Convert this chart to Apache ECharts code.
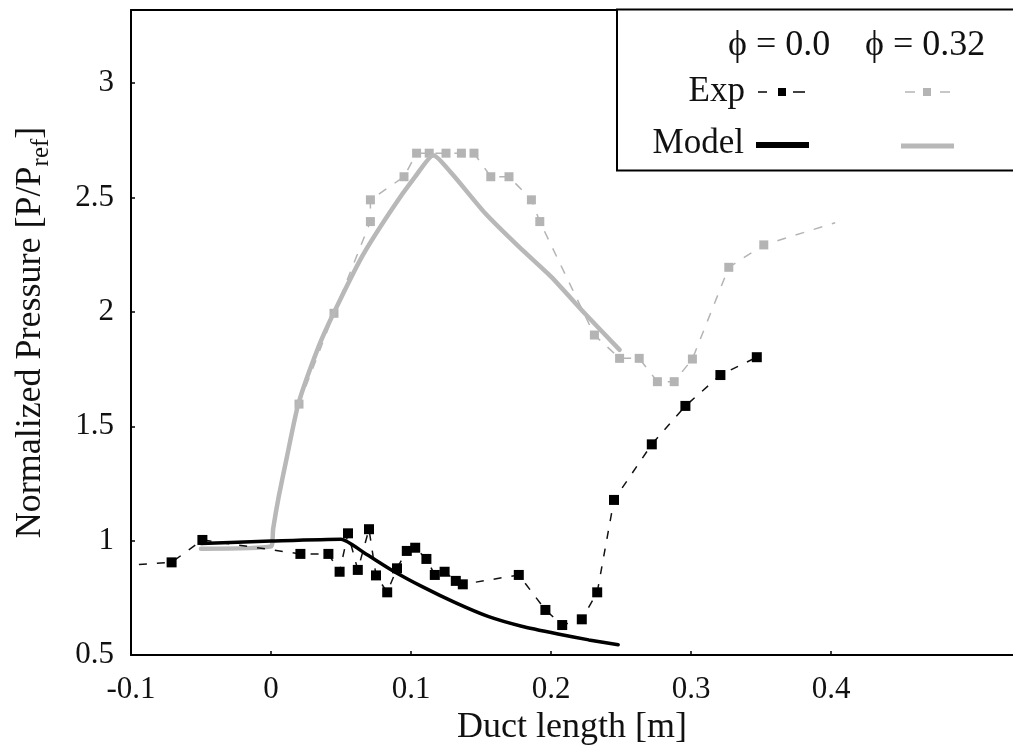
<!DOCTYPE html>
<html>
<head>
<meta charset="utf-8">
<script src="https://cdn.jsdelivr.net/npm/echarts@6/dist/echarts.min.js"></script>
<style>
html,body{margin:0;padding:0;background:#fff;}
#chart{width:1013px;height:755px;}
</style>
</head>
<body>
<div id="chart"></div>
<script>
// ---- data ----
const xTicks = [-0.1, 0, 0.1, 0.2, 0.3, 0.4];
const yTicks = [0.5, 1, 1.5, 2, 2.5, 3];

// Experiment, phi = 0.0 (black squares, dashed)
const expPhi0 = [
  [-0.12, 0.885], [-0.071, 0.905], [-0.049, 1.003], [0.021, 0.942], [0.041, 0.942],
  [0.049, 0.864], [0.055, 1.032], [0.062, 0.872], [0.070, 1.050], [0.075, 0.848],
  [0.083, 0.774], [0.090, 0.879], [0.097, 0.955], [0.103, 0.969], [0.111, 0.920],
  [0.117, 0.850], [0.124, 0.864], [0.132, 0.824], [0.137, 0.809], [0.177, 0.850],
  [0.196, 0.697], [0.208, 0.631], [0.222, 0.656], [0.233, 0.774], [0.245, 1.178],
  [0.272, 1.421], [0.296, 1.589], [0.321, 1.724], [0.347, 1.802]
];
// Experiment, phi = 0.32 (gray squares, dashed)
const expPhi032 = [
  [0.020, 1.597], [0.045, 1.994], [0.071, 2.395], [0.071, 2.490], [0.095, 2.591],
  [0.104, 2.694], [0.113, 2.694], [0.125, 2.694], [0.136, 2.694], [0.145, 2.694],
  [0.157, 2.591], [0.170, 2.591], [0.186, 2.490], [0.192, 2.395], [0.231, 1.899],
  [0.249, 1.797], [0.263, 1.797], [0.276, 1.695], [0.288, 1.695], [0.301, 1.794],
  [0.327, 2.195], [0.352, 2.293], [0.403, 2.390]
];
// Model, phi = 0.0 (black solid)
const modelPhi0 = [
  [-0.05, 0.988], [0.0, 0.998], [0.05, 1.006], [0.067, 0.945], [0.086, 0.872],
  [0.108, 0.799], [0.132, 0.728], [0.155, 0.669], [0.179, 0.626], [0.205, 0.592],
  [0.227, 0.566], [0.248, 0.545]
];
// Model, phi = 0.32 (gray solid)
const modelPhi032 = [
  [-0.05, 0.965], [0.0, 0.975], [0.0015, 1.05], [0.0055, 1.192], [0.0114, 1.367],
  [0.0195, 1.597], [0.034, 1.848], [0.0447, 1.994], [0.065, 2.242], [0.086, 2.446],
  [0.103, 2.591], [0.116, 2.685], [0.129, 2.606], [0.153, 2.431], [0.177, 2.285],
  [0.200, 2.154], [0.224, 1.994], [0.249, 1.834]
];
const seriesNames = ['Exp (ϕ = 0.0)', 'Model (ϕ = 0.0)', 'Exp (ϕ = 0.32)', 'Model (ϕ = 0.32)'];

const FONT = '"Liberation Serif", "DejaVu Serif", serif';
const TXT = '#111';
const GRAY = '#b4b4b4';

const chart = echarts.init(document.getElementById('chart'), null, {renderer: 'canvas'});

// last gray point has no marker
const expPhi032Data = expPhi032.map((p, i) =>
  i === expPhi032.length - 1 ? {value: p, symbol: 'none'} : {value: p});

chart.setOption({
  animation: false,
  backgroundColor: '#fff',
  grid: {left: 129, right: 0, top: 10, bottom: 100},
  xAxis: [{
    type: 'value', min: -0.1, max: 0.53, interval: 0.1,
    name: 'Duct length [m]', nameLocation: 'middle', nameGap: 53,
    nameTextStyle: {fontFamily: FONT, fontSize: 36, color: TXT},
    axisLine: {show: true, onZero: false, lineStyle: {color: '#000', width: 2}},
    axisTick: {show: true, inside: true, length: 4, lineStyle: {color: '#000', width: 1.5}, customValues: xTicks},
    axisLabel: {fontFamily: FONT, fontSize: 31, color: TXT, margin: 19, customValues: xTicks},
    splitLine: {show: false}
  }, {
    type: 'value', position: 'top', min: -0.1, max: 0.53,
    axisLine: {show: true, onZero: false, lineStyle: {color: '#000', width: 2}},
    axisTick: {show: false}, axisLabel: {show: false}, splitLine: {show: false}
  }],
  yAxis: {
    type: 'value', min: 0.5, max: 3.32, interval: 0.5,
    name: 'Normalized Pressure [P/P{sub|ref}]', nameLocation: 'middle', nameGap: 77,
    nameTextStyle: {fontFamily: FONT, fontSize: 36, color: TXT, lineHeight: 46,
      rich: {sub: {fontFamily: FONT, fontSize: 25, color: TXT, verticalAlign: 'bottom', lineHeight: 25}}},
    axisLine: {show: true, onZero: false, lineStyle: {color: '#000', width: 2}},
    axisTick: {show: true, inside: true, length: 4, lineStyle: {color: '#000', width: 1.5}, customValues: yTicks},
    axisLabel: {fontFamily: FONT, fontSize: 31, color: TXT, margin: 17, customValues: yTicks},
    splitLine: {show: false}
  },
  series: [
    {
      name: seriesNames[2], type: 'line', data: expPhi032Data, clip: true,
      symbol: 'rect', symbolSize: 9, showAllSymbol: true,
      itemStyle: {color: GRAY},
      lineStyle: {color: GRAY, width: 1.5, type: [9, 10]}, z: 2
    },
    {
      name: seriesNames[3], type: 'line', data: modelPhi032, clip: true,
      showSymbol: false, symbol: 'none', smooth: 0.2,
      lineStyle: {color: '#b8b8b8', width: 4.5, cap: 'round', join: 'round'}, z: 3
    },
    {
      name: seriesNames[0], type: 'line', data: expPhi0, clip: true,
      symbol: 'rect', symbolSize: 10, showAllSymbol: true,
      itemStyle: {color: '#000'},
      lineStyle: {color: '#111', width: 1.5, type: [8, 10]}, z: 4
    },
    {
      name: seriesNames[1], type: 'line', data: modelPhi0, clip: true,
      showSymbol: false, symbol: 'none', smooth: 0.2,
      lineStyle: {color: '#000', width: 3.5, cap: 'round', join: 'round'}, z: 5
    }
  ],
  graphic: [
    {type: 'rect', z: 100, shape: {x: 617, y: 9.5, width: 420, height: 161},
      style: {fill: '#fff', stroke: '#000', lineWidth: 2}},
    {type: 'text', z: 101, style: {x: 728, y: 46, text: 'ϕ = 0.0', fontFamily: FONT, fontSize: 36, fill: TXT, textVerticalAlign: 'middle'}},
    {type: 'text', z: 101, style: {x: 865, y: 46, text: 'ϕ = 0.32', fontFamily: FONT, fontSize: 36, fill: TXT, textVerticalAlign: 'middle'}},
    {type: 'text', z: 101, style: {x: 745, y: 92, text: 'Exp', fontFamily: FONT, fontSize: 35, fill: TXT, textAlign: 'right', textVerticalAlign: 'middle'}},
    {type: 'text', z: 101, style: {x: 744, y: 144, text: 'Model', fontFamily: FONT, fontSize: 35, fill: TXT, textAlign: 'right', textVerticalAlign: 'middle'}},
    // Exp phi=0 icon
    {type: 'line', z: 101, shape: {x1: 758, y1: 92, x2: 767, y2: 92}, style: {stroke: '#000', lineWidth: 1.5}},
    {type: 'rect', z: 101, shape: {x: 778, y: 88, width: 8, height: 8}, style: {fill: '#000'}},
    {type: 'line', z: 101, shape: {x1: 793, y1: 92, x2: 805, y2: 92}, style: {stroke: '#000', lineWidth: 1.5}},
    // Exp phi=0.32 icon
    {type: 'line', z: 101, shape: {x1: 905, y1: 92, x2: 915, y2: 92}, style: {stroke: GRAY, lineWidth: 1.5}},
    {type: 'rect', z: 101, shape: {x: 923, y: 88, width: 8, height: 8}, style: {fill: GRAY}},
    {type: 'line', z: 101, shape: {x1: 940, y1: 92, x2: 950, y2: 92}, style: {stroke: GRAY, lineWidth: 1.5}},
    // Model icons
    {type: 'line', z: 101, shape: {x1: 756, y1: 145, x2: 809, y2: 145}, style: {stroke: '#000', lineWidth: 6}},
    {type: 'line', z: 101, shape: {x1: 901, y1: 146, x2: 954, y2: 146}, style: {stroke: '#b8b8b8', lineWidth: 5}}
  ]
});
</script>
</body>
</html>
